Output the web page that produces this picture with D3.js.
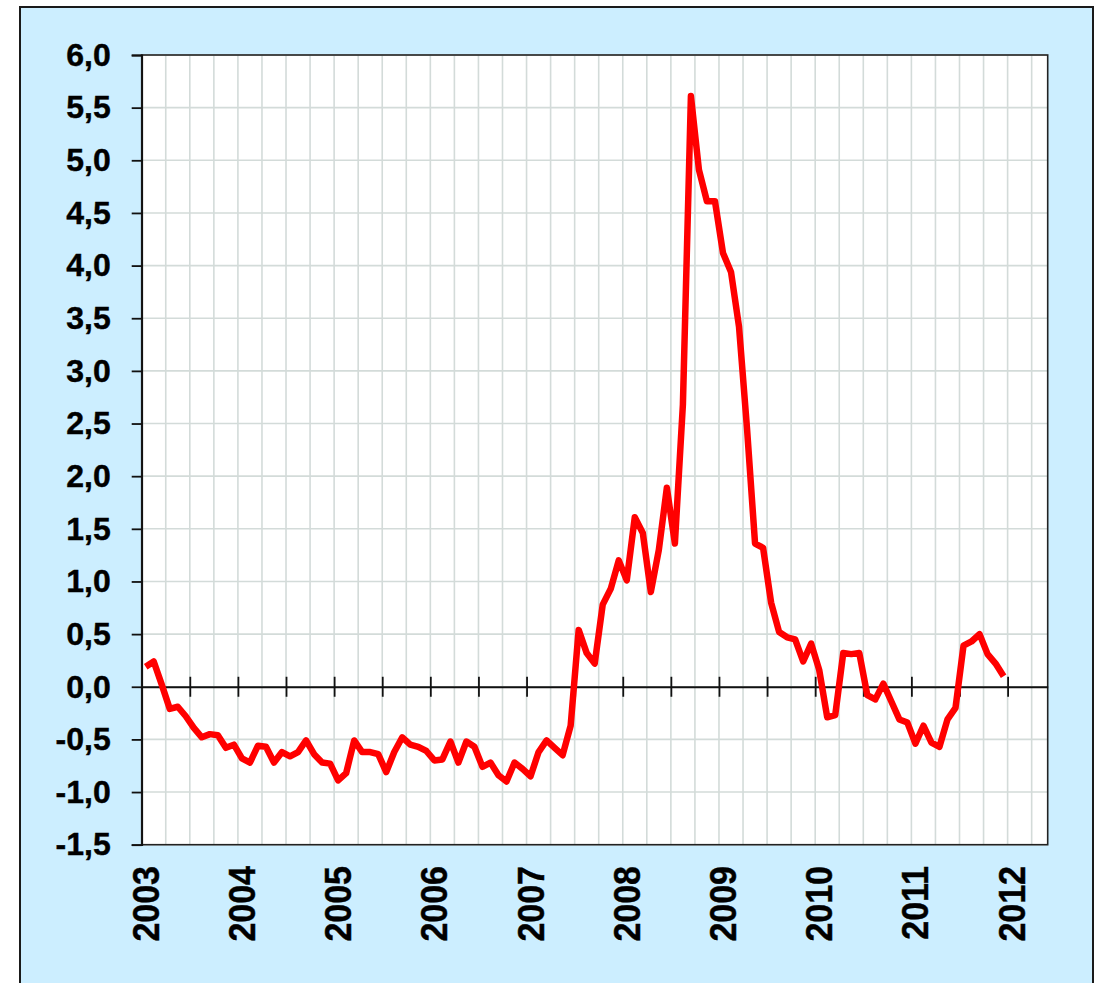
<!DOCTYPE html>
<html>
<head>
<meta charset="utf-8">
<script src="https://cdn.jsdelivr.net/npm/d3@7"></script>
<style>
  html, body { margin: 0; padding: 0; background: #ffffff; }
  svg { display: block; }
</style>
</head>
<body>
<svg id="chart" width="1097" height="983"></svg>
<script>
// Monthly values, Jan 2003 .. Dec 2011
var startYear = 2003;
var values = [
    0.19, 0.24, 0.02, -0.21, -0.19, -0.28, -0.39, -0.48, -0.45, -0.46, -0.58, -0.55,
    -0.68, -0.72, -0.56, -0.57, -0.72, -0.62, -0.66, -0.62, -0.51, -0.64, -0.72, -0.73,
    -0.89, -0.82, -0.51, -0.62, -0.62, -0.64, -0.81, -0.62, -0.48, -0.55, -0.57, -0.61,
    -0.70, -0.69, -0.52, -0.72, -0.52, -0.57, -0.76, -0.72, -0.84, -0.90, -0.72, -0.78,
    -0.85, -0.62, -0.51, -0.58, -0.65, -0.37, 0.54, 0.32, 0.22, 0.78, 0.93, 1.20,
    1.01, 1.61, 1.46, 0.90, 1.30, 1.89, 1.36, 2.68, 5.61, 4.91, 4.61, 4.61,
    4.12, 3.94, 3.42, 2.45, 1.36, 1.32, 0.80, 0.52, 0.47, 0.45, 0.24, 0.41,
    0.16, -0.29, -0.27, 0.32, 0.31, 0.32, -0.08, -0.12, 0.03, -0.14, -0.31, -0.34,
    -0.54, -0.37, -0.53, -0.57, -0.31, -0.20, 0.39, 0.43, 0.50, 0.31, 0.22, 0.10
];
var yearLabels = [2003, 2004, 2005, 2006, 2007, 2008, 2009, 2010, 2011, 2012];
var yTicks = [-1.5, -1.0, -0.5, 0.0, 0.5, 1.0, 1.5, 2.0, 2.5, 3.0, 3.5, 4.0, 4.5, 5.0, 5.5, 6.0];

// Number of monthly categories on the axis (to mid 2012)
var monthCount = 113;

var svg = d3.select("#chart");

// Plot area in pixels
var plot = { left: 141.7, top: 55, right: 1047.7, bottom: 844.7 };

var x = d3.scaleLinear().domain([0, monthCount]).range([plot.left, plot.right]);
var y = d3.scaleLinear().domain([-1.5, 6.0]).range([plot.bottom, plot.top]);

var fontFamily = "'Liberation Sans', Arial, Helvetica, sans-serif";

// Comma decimals and a plain hyphen for the minus sign
var locale = d3.formatLocale({ decimal: ",", thousands: ".", grouping: [3], currency: ["", ""], minus: "-" });
var fmt = locale.format(".1f");

// Light blue frame around everything
svg.append("rect")
    .attr("x", 20).attr("y", 7)
    .attr("width", 1073).attr("height", 1000)
    .attr("fill", "#cceeff")
    .attr("stroke", "#1a1a1a")
    .attr("stroke-width", 2);

// White plot background
svg.append("rect")
    .attr("x", plot.left).attr("y", plot.top)
    .attr("width", plot.right - plot.left)
    .attr("height", plot.bottom - plot.top)
    .attr("fill", "#ffffff");

// Grid: horizontal every 0.5, vertical every quarter
var grid = svg.append("g").attr("class", "grid")
    .attr("stroke", "#d3dbd9")
    .attr("stroke-width", 1.6);

grid.selectAll(".hgrid")
    .data(yTicks)
    .enter().append("line")
    .attr("x1", plot.left).attr("x2", plot.right)
    .attr("y1", function (d) { return y(d); })
    .attr("y2", function (d) { return y(d); });

grid.selectAll(".vgrid")
    .data(d3.range(3, monthCount, 3))
    .enter().append("line")
    .attr("y1", plot.top).attr("y2", plot.bottom)
    .attr("x1", function (d) { return x(d); })
    .attr("x2", function (d) { return x(d); });

// Plot border
svg.append("rect")
    .attr("x", plot.left).attr("y", plot.top)
    .attr("width", plot.right - plot.left)
    .attr("height", plot.bottom - plot.top)
    .attr("fill", "none")
    .attr("stroke", "#222222")
    .attr("stroke-width", 1.6);

// Y axis with outward ticks
var yAxis = d3.axisLeft(y)
    .tickValues(yTicks)
    .tickSize(10)
    .tickPadding(21)
    .tickFormat(fmt);

var yg = svg.append("g")
    .attr("transform", "translate(" + plot.left + ",0)")
    .call(yAxis);
yg.select(".domain").attr("stroke", "#111").attr("stroke-width", 1.8);
yg.selectAll(".tick line").attr("stroke", "#111").attr("stroke-width", 1.8);
yg.selectAll(".tick text")
    .attr("fill", "#000")
    .attr("stroke", "#000")
    .attr("stroke-width", 0.4)
    .style("font-family", fontFamily)
    .style("font-weight", "bold")
    .style("font-size", "32px");

// Zero line with half-year ticks crossing it
var zeroAxis = d3.axisBottom(x)
    .tickValues(d3.range(6, 109, 6))
    .tickSizeInner(0)
    .tickSizeOuter(0)
    .tickFormat("");

var zg = svg.append("g")
    .attr("transform", "translate(0," + y(0) + ")")
    .call(zeroAxis);
zg.select(".domain").attr("stroke", "#111").attr("stroke-width", 1.8);
zg.selectAll(".tick line")
    .attr("y1", -10).attr("y2", 10)
    .attr("stroke", "#111").attr("stroke-width", 1.8);

// Year labels below the plot, rotated
svg.append("g").attr("class", "year-labels")
    .selectAll("text")
    .data(yearLabels)
    .enter().append("text")
    .attr("transform", function (d) {
        return "translate(" + (x((d - startYear) * 12) + 4) + ",866) rotate(-90) scale(1,1.06)";
    })
    .attr("text-anchor", "end")
    .attr("dy", "0.36em")
    .attr("fill", "#000")
    .attr("stroke", "#000")
    .attr("stroke-width", 0.4)
    .style("font-family", fontFamily)
    .style("font-weight", "bold")
    .style("font-size", "34px")
    .text(function (d) { return d; });

// The red series line, points centred in each month
var line = d3.line()
    .x(function (d, i) { return x(i + 0.5); })
    .y(function (d) { return y(d); });

svg.append("path")
    .datum(values)
    .attr("d", line)
    .attr("fill", "none")
    .attr("stroke", "#ff0000")
    .attr("stroke-width", 6.5)
    .attr("stroke-linejoin", "round")
    .attr("stroke-linecap", "butt");
</script>
</body>
</html>
